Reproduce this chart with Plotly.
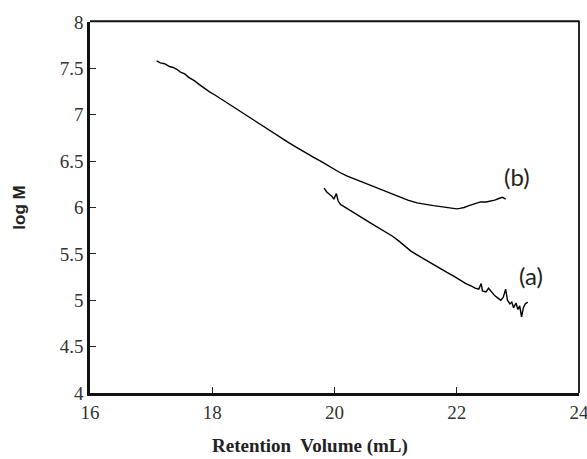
import plotly.graph_objects as go

# Curve (b)
b_x = [17.09, 17.15, 17.22, 17.30, 17.36, 17.42, 17.48, 17.55, 17.62, 17.70, 17.78, 17.86,
       17.95, 18.05, 18.12, 18.21, 18.30, 18.40, 18.50, 18.62, 18.75, 18.88, 19.00, 19.11,
       19.25, 19.40, 19.55, 19.66, 19.80, 19.95, 20.08, 20.20, 20.35, 20.50, 20.62, 20.75,
       20.90, 21.05, 21.20, 21.35, 21.50, 21.62, 21.74, 21.85, 21.95, 22.00, 22.05, 22.12,
       22.20, 22.30, 22.39, 22.48, 22.55, 22.62, 22.70, 22.75, 22.80]
b_y = [7.58, 7.56, 7.55, 7.52, 7.51, 7.49, 7.46, 7.44, 7.40, 7.37, 7.33, 7.29,
       7.25, 7.21, 7.18, 7.15, 7.11, 7.06, 7.02, 6.97, 6.91, 6.86, 6.81, 6.76,
       6.70, 6.64, 6.58, 6.54, 6.49, 6.43, 6.38, 6.34, 6.30, 6.26, 6.23, 6.20,
       6.16, 6.12, 6.08, 6.05, 6.03, 6.02, 6.01, 6.00, 5.99, 5.985, 5.99, 6.00,
       6.02, 6.04, 6.06, 6.06, 6.07, 6.08, 6.10, 6.11, 6.09]

# Curve (a)
a_x = [19.83, 19.87, 19.92, 19.96, 19.99, 20.03, 20.06, 20.10, 20.13, 20.20, 20.30, 20.40,
       20.50, 20.62, 20.75, 20.85, 20.95, 21.05, 21.15, 21.25, 21.35, 21.45, 21.55, 21.65,
       21.75, 21.84, 21.95, 22.05, 22.15, 22.25, 22.30, 22.36, 22.40, 22.42, 22.48, 22.52,
       22.56, 22.62, 22.68, 22.72, 22.76, 22.80, 22.83, 22.87, 22.90, 22.93, 22.97, 23.00,
       23.03, 23.06, 23.09, 23.12, 23.16]
a_y = [6.21, 6.17, 6.14, 6.12, 6.09, 6.15, 6.07, 6.03, 6.02, 5.99, 5.95, 5.91,
       5.87, 5.82, 5.77, 5.73, 5.69, 5.64, 5.58, 5.53, 5.49, 5.45, 5.41, 5.37,
       5.33, 5.30, 5.26, 5.22, 5.18, 5.15, 5.13, 5.12, 5.18, 5.10, 5.09, 5.13,
       5.10, 5.05, 5.02, 5.00, 5.03, 5.12, 5.00, 4.96, 4.98, 4.92, 4.97, 4.90,
       4.94, 4.82, 4.92, 4.96, 4.98]

x_ticks = [16, 18, 20, 22, 24]
y_ticks = [4, 4.5, 5, 5.5, 6, 6.5, 7, 7.5, 8]

fig = go.Figure()
fig.add_trace(go.Scatter(x=b_x, y=b_y, mode="lines", line=dict(color="black", width=1.4),
                         showlegend=False))
fig.add_trace(go.Scatter(x=a_x, y=a_y, mode="lines", line=dict(color="black", width=1.4),
                         showlegend=False))

fig.add_annotation(x=22.99, y=6.33, text="(b)", showarrow=False,
                   font=dict(family="Lato", size=24, color="#222"))
fig.add_annotation(x=23.22, y=5.27, text="(a)", showarrow=False,
                   font=dict(family="Lato", size=24, color="#222"))

# thin top and right frame lines
fig.add_shape(type="line", xref="paper", yref="paper", x0=0, x1=1, y0=1.002, y1=1.002,
              line=dict(color="#111", width=2), layer="above")
fig.add_shape(type="line", xref="paper", yref="paper", x0=1, x1=1, y0=0, y1=1.004,
              line=dict(color="#111", width=1.8), layer="above")

fig.add_annotation(xref="paper", yref="paper", x=0.45, y=-0.178, text="<b>Retention  Volume (mL)</b>",
                   showarrow=False, yanchor="bottom",
                   font=dict(family="Liberation Serif", size=19, color="#222"))

fig.update_xaxes(range=[16, 24], tickvals=x_ticks, ticks="inside", ticklen=6, tickcolor="#222",
                 showgrid=False, zeroline=False, ticklabeloverflow="allow",
                 showline=True, linecolor="#111", linewidth=2.5,
                 tickfont=dict(family="Liberation Serif", size=19, color="#333"))
fig.update_yaxes(range=[4, 8], tickvals=y_ticks, ticks="inside", ticklen=6, tickcolor="#222",
                 showgrid=False, zeroline=False, showline=True, linecolor="#111", linewidth=2.5,
                 title=dict(text="<b>log M</b>", font=dict(family="Liberation Sans", size=17, color="#222"),
                            standoff=30),
                 tickfont=dict(family="Liberation Serif", size=19, color="#333"))

fig.update_layout(width=587, height=459, plot_bgcolor="white", paper_bgcolor="white",
                  margin=dict(l=90, r=8, t=22, b=66, autoexpand=False))

fig.write_html("out.html", config={"displayModeBar": False},
               post_script="document.body.style.margin='0';")
